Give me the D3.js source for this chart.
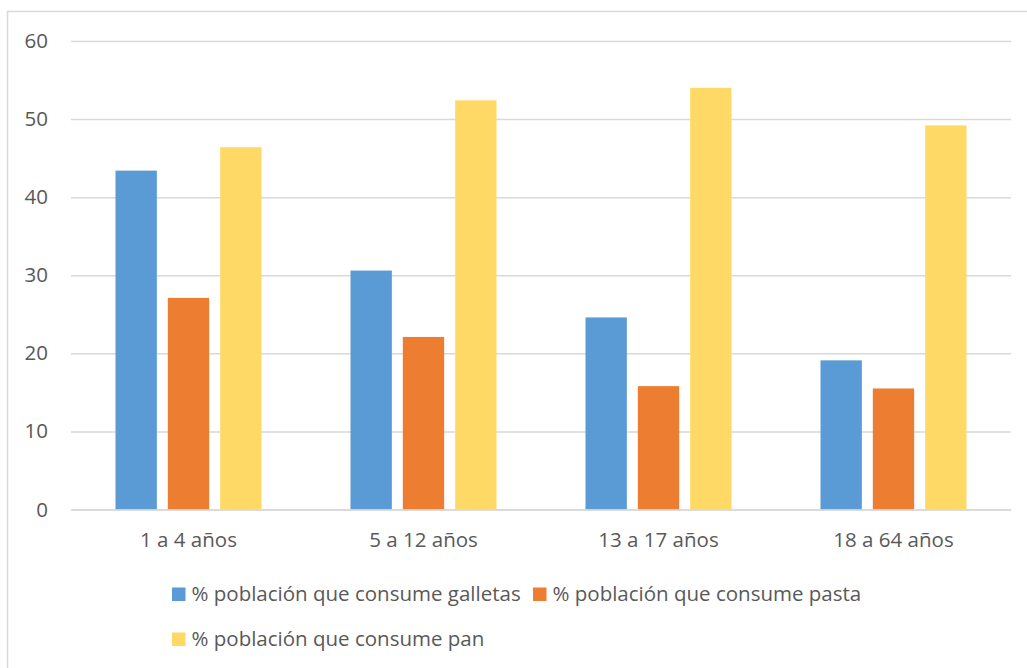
<!DOCTYPE html>
<html>
<head>
<meta charset="utf-8">
<script src="https://cdn.jsdelivr.net/npm/d3@7"></script>
<style>
  html, body { margin: 0; padding: 0; background: #fff; }
  svg { display: block; font-family: "Open Sans", Lato, sans-serif; }
</style>
</head>
<body>
<svg id="chart" width="1027" height="668"></svg>
<script>
// Age groups along the x axis
const categories = ["1 a 4 años", "5 a 12 años", "13 a 17 años", "18 a 64 años"];

// Series names
const seriesNames = [
  "% población que consume galletas",
  "% población que consume pasta",
  "% población que consume pan"
];

// Percent of population per age group
const galletas = [43.4, 30.6, 24.6, 19.1];
const pasta    = [27.1, 22.1, 15.8, 15.5];
const pan      = [46.4, 52.4, 54.0, 49.2];

const yTicks = [0, 10, 20, 30, 40, 50, 60];
const colors = ["#5B9BD5", "#ED7D31", "#FFD966"];

const seriesValues = [galletas, pasta, pan];
const rows = categories.map((c, i) => ({
  category: c,
  values: seriesNames.map((s, j) => ({ series: s, value: seriesValues[j][i] }))
}));

const svg = d3.select("#chart");
const textColor = "#595959";
const gridColor = "#D9D9D9";
const fontSize = 20.5;

// Chart frame (top and left edges visible within the page)
svg.append("rect")
  .attr("x", 7.5).attr("y", 11.5)
  .attr("width", 1040).attr("height", 680)
  .attr("fill", "none")
  .attr("stroke", gridColor)
  .attr("stroke-width", 1.5);

const plot = { left: 71, right: 1011, top: 41, bottom: 509.5 };

const x0 = d3.scaleBand()
  .domain(categories)
  .range([plot.left, plot.right])
  .padding(0);

const groupWidth = 146;
const x1 = d3.scaleBand()
  .domain(seriesNames)
  .range([0, groupWidth])
  .paddingInner(0.21)
  .paddingOuter(0);

const y = d3.scaleLinear()
  .domain([0, 60])
  .range([plot.bottom, plot.top]);

// Horizontal gridlines and y labels
const yAxis = d3.axisLeft(y)
  .tickValues(yTicks)
  .tickSize(-(plot.right - plot.left))
  .tickPadding(23)
  .tickFormat(d3.format("d"));

const gy = svg.append("g")
  .attr("transform", `translate(${plot.left},0)`)
  .call(yAxis);
gy.select(".domain").remove();
gy.selectAll(".tick line")
  .attr("stroke", gridColor)
  .attr("stroke-width", 1.5);
gy.selectAll(".tick text")
  .attr("fill", textColor)
  .attr("font-family", "'Open Sans', sans-serif")
  .attr("font-size", fontSize);

// Bars
const groups = svg.append("g")
  .selectAll("g")
  .data(rows)
  .join("g")
  .attr("transform", d => `translate(${x0(d.category) + (x0.bandwidth() - groupWidth) / 2},0)`);

groups.selectAll("rect")
  .data(d => d.values)
  .join("rect")
  .attr("x", d => x1(d.series))
  .attr("y", d => y(d.value))
  .attr("width", x1.bandwidth())
  .attr("height", d => y(0) - y(d.value))
  .attr("fill", (d, i) => colors[i]);

// Category axis
const xAxis = d3.axisBottom(x0).tickSize(0).tickPadding(23);
const gx = svg.append("g")
  .attr("transform", `translate(0,${plot.bottom})`)
  .call(xAxis);
gx.select(".domain")
  .attr("stroke", gridColor)
  .attr("stroke-width", 1.5);
gx.selectAll(".tick text")
  .attr("fill", textColor)
  .attr("font-family", "'Open Sans', sans-serif")
  .attr("font-size", fontSize);

// Legend
const legendItems = [
  { name: seriesNames[0], color: colors[0], x: 172, y: 594 },
  { name: seriesNames[1], color: colors[1], x: 533, y: 594 },
  { name: seriesNames[2], color: colors[2], x: 172, y: 639 }
];
const lg = svg.append("g")
  .selectAll("g")
  .data(legendItems)
  .join("g")
  .attr("transform", d => `translate(${d.x},${d.y})`);
lg.append("rect")
  .attr("x", 0).attr("y", -6.5)
  .attr("width", 13.5).attr("height", 13.5)
  .attr("fill", d => d.color);
lg.append("text")
  .attr("x", 19.5)
  .attr("dy", "0.35em")
  .attr("fill", textColor)
  .attr("font-size", fontSize)
  .text(d => d.name);
</script>
</body>
</html>
